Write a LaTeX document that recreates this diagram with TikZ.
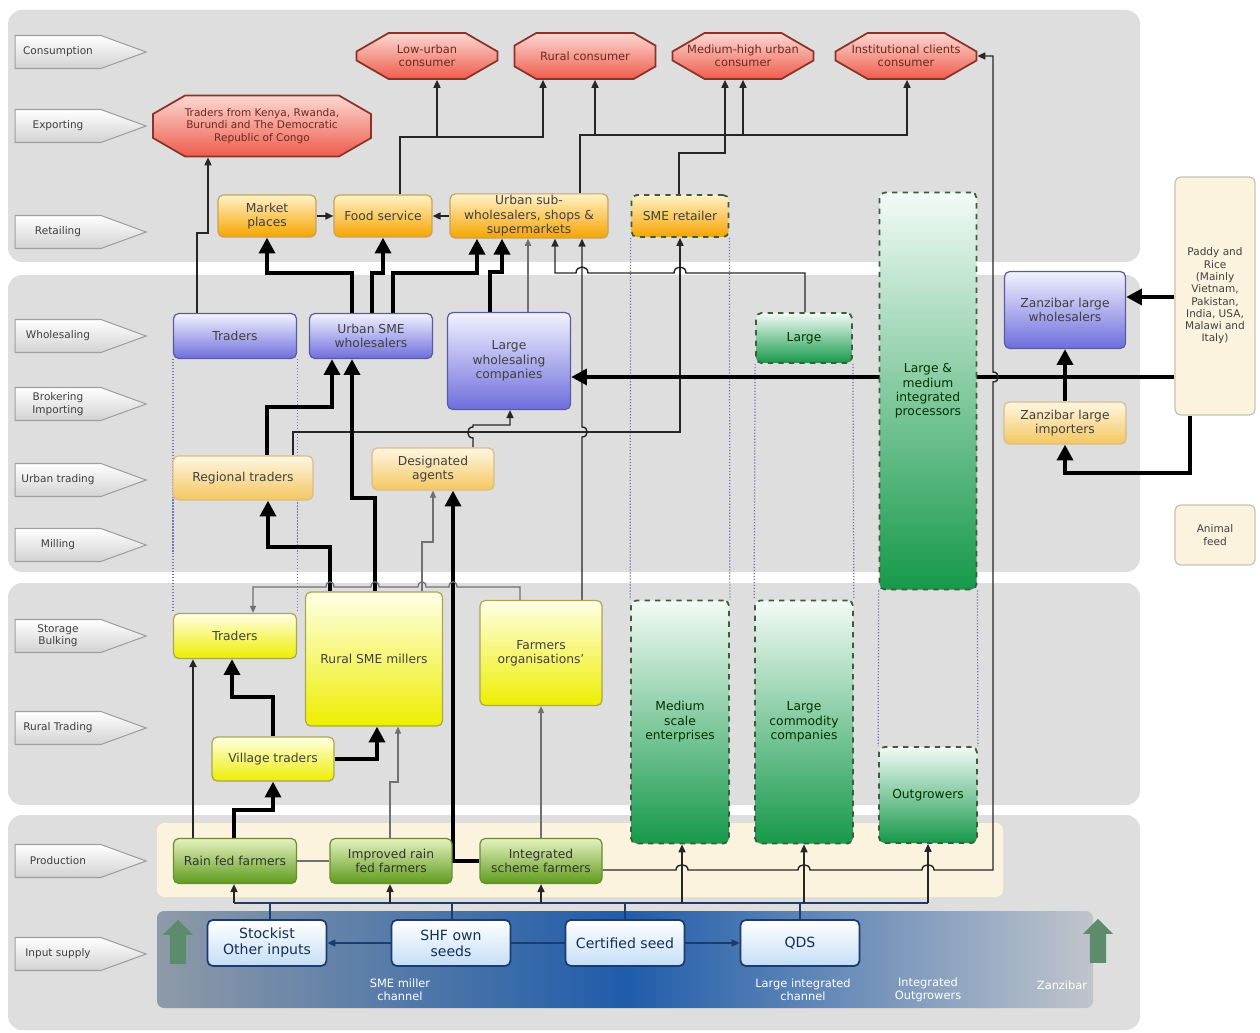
\documentclass[tikz,border=0pt]{standalone}
\usepackage{fontspec}
\setmainfont{DejaVu Sans}
\usetikzlibrary{arrows.meta,shapes.misc,shapes.symbols,shapes.arrows}
\pgfdeclarelayer{bg}
\pgfdeclarelayer{edges}
\pgfsetlayers{bg,edges,main}
\definecolor{panel}{HTML}{DEDEDE}
\definecolor{consT}{HTML}{FCD8D2}
\definecolor{consB}{HTML}{EE5C4C}
\definecolor{consL}{HTML}{8A3328}
\definecolor{retT}{HTML}{FFF2C8}
\definecolor{retB}{HTML}{F6A400}
\definecolor{retL}{HTML}{C9A25A}
\definecolor{whT}{HTML}{F2F2FF}
\definecolor{whB}{HTML}{6E6EDD}
\definecolor{whL}{HTML}{5A5AA0}
\definecolor{agT}{HTML}{FFF6E2}
\definecolor{agB}{HTML}{F4C760}
\definecolor{grT}{HTML}{F2FBF6}
\definecolor{grB}{HTML}{16994A}
\definecolor{grL}{HTML}{3F5A3F}
\definecolor{yeT}{HTML}{FFFFE6}
\definecolor{yeB}{HTML}{EEEE00}
\definecolor{yeL}{HTML}{A8A850}
\definecolor{prT}{HTML}{E6F2C0}
\definecolor{prB}{HTML}{5E9B1C}
\definecolor{prL}{HTML}{6C8C34}
\definecolor{cream}{HTML}{FBF3DE}
\definecolor{inB}{HTML}{C4DEF6}
\definecolor{inL}{HTML}{1C3B6E}
\definecolor{band}{HTML}{1F5CAA}
\definecolor{bandL}{HTML}{8E9AA8}
\definecolor{bandR}{HTML}{C0C5CB}
\definecolor{chan}{HTML}{7272B8}
\definecolor{upg}{HTML}{5C8C6C}
\definecolor{lnk}{HTML}{707070}
\newcommand\txtsm{\fontsize{6}{7}\selectfont}
\newcommand\txtbx{\fontsize{7}{8.2}\selectfont}
\newcommand\txtlb{\fontsize{6}{7}\selectfont}
\newcommand\txtch{\fontsize{6.5}{7.5}\selectfont}
\newcommand\txtin{\fontsize{8}{9.2}\selectfont}
\newcommand\octxt[1]{\hbox to 1.7cm{\hss#1\hss}}
\tikzset{
  sz/.style 2 args={minimum width=#1*0.02cm,minimum height=#2*0.02cm},
  stage/.style={signal,signal to=east,signal pointer angle=40,draw=gray!75,line width=0.6pt,
    top color=white,bottom color=gray!35,inner sep=1pt,align=center,font=\txtlb,text=black!75,sz={131}{33}},
  cons/.style={chamfered rectangle,chamfered rectangle angle=60,chamfered rectangle xsep=0.42cm,draw=consL,line width=1pt,
    top color=consT,bottom color=consB,align=center,font=\txtch,text=consL!80!black,inner sep=1pt},
  box/.style={rounded corners=3pt,align=center,font=\txtbx,text=black!75,line width=0.7pt,inner sep=1pt},
  retail/.style={box,draw=retL,top color=retT,bottom color=retB},
  whole/.style={box,draw=whL,top color=whT,bottom color=whB},
  agent/.style={box,draw=retL!70,top color=agT,bottom color=agB},
  green/.style={box,draw=grL,dashed,line width=1pt,top color=grT,bottom color=grB,text=green!20!black},
  yell/.style={box,draw=yeL,top color=yeT,bottom color=yeB},
  prod/.style={box,draw=prL,top color=prT,bottom color=prB,text=black!80},
  input/.style={box,draw=inL,line width=1pt,top color=white,bottom color=inB,font=\txtin,text=inL!80!black},
  note/.style={box,draw=cream!80!black,fill=cream,font=\txtsm},
  chanlbl/.style={align=center,font=\txtch,text=white},
  upar/.style={single arrow,rotate=90,fill=upg,draw=none,single arrow head extend=3pt,minimum height=0.88cm,minimum width=0.6cm},
  ln/.style={draw=black!85,line width=0.8pt,-{Triangle[length=4.5pt,width=4pt]}},
  thk/.style={draw=black,line width=2.3pt,-{Triangle[length=9pt,width=9pt]}},
  gln/.style={draw=lnk,line width=0.7pt,-{Triangle[length=4pt,width=3.5pt]}},
  dln/.style={draw=inL,line width=0.8pt},
  chan/.style={draw=chan,densely dotted,line width=0.7pt}
}
\begin{document}
\begin{tikzpicture}[x=0.02cm,y=-0.02cm]
\useasboundingbox (0,0) rectangle (1260,1033);
% stage labels
\node[stage] (sCons) at (58,52) {Consumption};
\node[stage] (sExp) at (58,126) {Exporting};
\node[stage] (sRet) at (58,232) {Retailing};
\node[stage] (sWho) at (58,336) {Wholesaling};
\node[stage] (sBro) at (58,404) {Brokering\\Importing};
\node[stage] (sUrb) at (58,480) {Urban trading};
\node[stage] (sMil) at (58,545) {Milling};
\node[stage] (sSto) at (58,636) {Storage\\Bulking};
\node[stage] (sRur) at (58,728) {Rural Trading};
\node[stage] (sPro) at (58,861) {Production};
\node[stage] (sInp) at (58,954) {Input supply};
% consumers
\node[cons,sz={141}{46}] (lowu) at (427,56) {\octxt{Low-urban}\\\octxt{consumer}};
\node[cons,sz={141}{46}] (rural) at (585,56) {\octxt{Rural consumer}};
\node[cons,sz={141}{46}] (medhi) at (743,56) {\octxt{Medium-high urban}\\\octxt{consumer}};
\node[cons,sz={141}{46}] (inst) at (906,56) {\octxt{Institutional clients}\\\octxt{consumer}};
\node[cons,sz={218}{61},font=\txtsm] (kenya) at (262,126) {Traders from Kenya, Rwanda,\\Burundi and The Democratic\\Republic of Congo};
% retailing
\node[retail,sz={98}{42}] (mkt) at (267,216) {Market\\places};
\node[retail,sz={98}{42}] (food) at (383,216) {Food service};
\node[retail,sz={158}{42}] (usw) at (529,216) {Urban sub-\\wholesalers, shops \&\\supermarkets};
\node[retail,dashed,draw=grL,line width=1pt,sz={97}{42}] (smer) at (680,216) {SME retailer};
\node[green,sz={97}{397}] (proc) at (928,391) {Large \&\\medium\\integrated\\processors};
% wholesaling
\node[whole,sz={123}{45}] (trdw) at (235,336) {Traders};
\node[whole,sz={123}{45}] (usme) at (371,336) {Urban SME\\wholesalers};
\node[whole,sz={123}{97}] (lwc) at (509,361) {Large\\wholesaling\\companies};
\node[green,sz={96}{50}] (large) at (804,338) {Large};
\node[whole,sz={121}{77}] (zlw) at (1065,310) {Zanzibar large\\wholesalers};
\node[agent,sz={122}{42}] (zli) at (1065,423) {Zanzibar large\\importers};
\node[note,sz={80}{238}] (paddy) at (1215,296) {Paddy and\\Rice\\(Mainly\\Vietnam,\\Pakistan,\\India, USA,\\Malawi and\\Italy)};
\node[note,sz={80}{60}] (feed) at (1215,535) {Animal\\feed};
\node[agent,sz={140}{44}] (reg) at (243,478) {Regional traders};
\node[agent,sz={122}{42}] (desig) at (433,469) {Designated\\agents};
% storage and rural trading
\node[yell,sz={123}{45}] (trds) at (235,636) {Traders};
\node[yell,sz={137}{134}] (rsme) at (374,659) {Rural SME millers};
\node[yell,sz={122}{105}] (fo) at (541,653) {Farmers\\organisations'};
\node[yell,sz={122}{44}] (vill) at (273,759) {Village traders};
\node[green,sz={98}{243}] (mse) at (680,722) {Medium\\scale\\enterprises};
\node[green,sz={98}{243}] (lcc) at (804,722) {Large\\commodity\\companies};
\node[green,sz={98}{96}] (outg) at (928,795) {Outgrowers};
% production
\node[prod,sz={123}{45}] (rain) at (235,861) {Rain fed farmers};
\node[prod,sz={122}{45}] (impr) at (391,861) {Improved rain\\fed farmers};
\node[prod,sz={122}{45}] (integ) at (541,861) {Integrated\\scheme farmers};
% input supply
\node[input,sz={119}{46}] (stock) at (267,943) {Stockist\\Other inputs};
\node[input,sz={119}{46}] (shf) at (451,943) {SHF own\\seeds};
\node[input,sz={119}{46}] (cert) at (625,943) {Certified seed};
\node[input,sz={119}{46}] (qds) at (800,943) {QDS};
\node[upar] (upA) at (178,946) {};
\node[upar] (upB) at (1098,945) {};
\node[chanlbl] (cSme) at (400,990) {SME miller\\channel};
\node[chanlbl] (cLar) at (803,990) {Large integrated\\channel};
\node[chanlbl] (cOut) at (928,990) {Integrated\\Outgrowers};
\node[chanlbl] (cZan) at (1062,985) {Zanzibar};
\coordinate (busL) at (234,903);
\coordinate (busR) at (928,903);

\begin{pgfonlayer}{bg}
  \fill[panel,rounded corners=8pt] (8,10) rectangle (1140,262);
  \fill[panel,rounded corners=8pt] (8,275) rectangle (1140,572);
  \fill[panel,rounded corners=8pt] (8,583) rectangle (1140,805);
  \fill[panel,rounded corners=8pt] (8,815) rectangle (1140,1030);
  \fill[cream,rounded corners=4pt] (157,823) rectangle (1003,897);
  \shade[rounded corners=4pt,left color=bandL,right color=bandR,middle color=band] (157,911) rectangle (1093,1008);
\end{pgfonlayer}

\begin{pgfonlayer}{edges}
  % channel borders
  \draw[chan] (trdw.south west) -- (trds.north west);
  \draw[chan] (trdw.south east) -- (trds.north east);
  \draw[chan] (smer.south west) -- (mse.north west);
  \draw[chan] (smer.south east) -- (mse.north east);
  \draw[chan] (large.south west) -- (lcc.north west);
  \draw[chan] (large.south east) -- (lcc.north east);
  \draw[chan] (proc.south west) -- (outg.north west);
  \draw[chan] (proc.south east) -- (outg.north east);
  % to consumers and exporters
  \draw[ln] (trdw.north -| 197,0) -- (197,233) -- (208,233) -- (kenya.south -| 208,0);
  \draw[ln] (mkt) -- (food);
  \draw[ln] (usw) -- (food);
  \draw[ln] (food.north -| 400,0) |- (543,137) -- (rural.south -| 543,0);
  \draw[ln] (437,137) -- (lowu.south -| 437,0);
  \draw[ln] (usw.north -| 580,0) |- (907,135) -- (inst.south -| 907,0);
  \draw[ln] (595,135) -- (rural.south -| 595,0);
  \draw[ln] (743,135) -- (medhi.south -| 743,0);
  \draw[ln] (smer.north -| 679,0) |- (725,153) -- (medhi.south -| 725,0);
  % wholesaling to retailing
  \draw[thk] (usme.north -| 352,0) |- (267,273) -- (mkt.south -| 267,0);
  \draw[thk] (usme.north -| 372,0) |- (383,273) -- (food.south -| 383,0);
  \draw[thk] (usme.north -| 393,0) |- (477,273) -- (usw.south -| 477,0);
  \draw[thk] (lwc.north -| 490,0) |- (502,272) -- (usw.south -| 502,0);
  \draw[gln] (lwc.north -| 528,0) -- (usw.south -| 528,0);
  \draw[ln] (large.north -| 805,0) -- (805,273) -- (686,273) .. controls (686,265) and (674,265) .. (674,273)
    -- (588,273) .. controls (588,265) and (576,265) .. (576,273) -- (555,273) -- (usw.south -| 555,0);
  \draw[ln] (fo.north -| 582,0) -- (582,437) .. controls (589,437) and (589,427) .. (582,427)
    -- (582,382) .. controls (589,382) and (589,372) .. (582,372) -- (usw.south -| 582,0);
  \draw[ln] (reg.north -| 293,0) -- (293,432) -- (680,432) -- (smer.south -| 680,0);
  \draw[ln] (desig.north -| 473,0) -- (473,438) .. controls (466,438) and (466,427) .. (473,427)
    -- (473,425) -- (510,425) -- (lwc.south -| 510,0);
  % imports
  \draw[thk] (paddy.west |- 0,377) -- (lwc.east |- 0,377);
  \draw[thk] (paddy.west |- 0,297) -- (zlw.east |- 0,297);
  \draw[thk] (zli) -- (zlw);
  \draw[thk] (paddy.south -| 1190,0) |- (1065,473) -- (zli.south);
  % milling and trading
  \draw[thk] (reg.north -| 267,0) |- (332,407) -- (usme.south -| 332,0);
  \draw[thk] (rsme.north -| 375,0) |- (352,498) -- (usme.south -| 352,0);
  \draw[thk] (rsme.north -| 330,0) |- (268,547) -- (reg.south -| 268,0);
  \draw[gln] (rsme.north -| 422,0) |- (433,542) -- (desig.south -| 433,0);
  \draw[thk] (integ.west) -- (453,861) -- (desig.south -| 453,0);
  \draw[gln] (fo.north -| 520,0) -- (520,587) -- (457,587) .. controls (457,580) and (449,580) .. (449,587)
    -- (426,587) .. controls (426,580) and (418,580) .. (418,587)
    -- (379,587) .. controls (379,580) and (371,580) .. (371,587)
    -- (334,587) .. controls (334,580) and (326,580) .. (326,587) -- (253,587) -- (trds.north -| 253,0);
  \draw[ln,line width=1.2pt] (rain.north -| 193,0) -- (trds.south -| 193,0);
  \draw[thk] (vill.north -| 273,0) |- (232,697) -- (trds.south -| 232,0);
  \draw[thk] (vill.east) -| (rsme.south -| 377,0);
  \draw[gln] (impr.north -| 390,0) |- (398,782) -- (rsme.south -| 398,0);
  \draw[thk] (rain.north -| 234,0) |- (273,810) -- (vill.south -| 273,0);
  \draw[gln] (integ.north -| 541,0) -- (fo.south -| 541,0);
  \draw[draw=lnk,line width=0.7pt] (rain) -- (impr);
  \draw[ln] (integ.east |- 0,870) -- (676,870) .. controls (676,863) and (688,863) .. (688,870)
    -- (798,870) .. controls (798,863) and (810,863) .. (810,870)
    -- (922,870) .. controls (922,863) and (934,863) .. (934,870)
    -- (993,870) -- (993,382) .. controls (1000,382) and (1000,372) .. (993,372) -- (993,56) -- (inst.east);
  % input supply
  \draw[dln] (busL) -- (busR);
  \draw[dln] (stock.north -| 270,0) -- (270,903);
  \draw[dln] (shf.north -| 452,0) -- (452,903);
  \draw[dln] (cert.north) -- (625,903);
  \draw[dln] (qds.north) -- (800,903);
  \draw[ln] (busL) -- (rain.south -| busL);
  \draw[ln] (390,903) -- (impr.south -| 390,0);
  \draw[ln] (541,903) -- (integ.south -| 541,0);
  \draw[ln] (682,903) -- (mse.south -| 682,0);
  \draw[ln] (804,903) -- (lcc.south -| 804,0);
  \draw[ln] (busR) -- (outg.south -| busR);
  \draw[ln,draw=inL] (shf) -- (stock);
  \draw[dln] (shf) -- (cert);
  \draw[ln,draw=inL] (cert) -- (qds);
\end{pgfonlayer}
\end{tikzpicture}
\end{document}
